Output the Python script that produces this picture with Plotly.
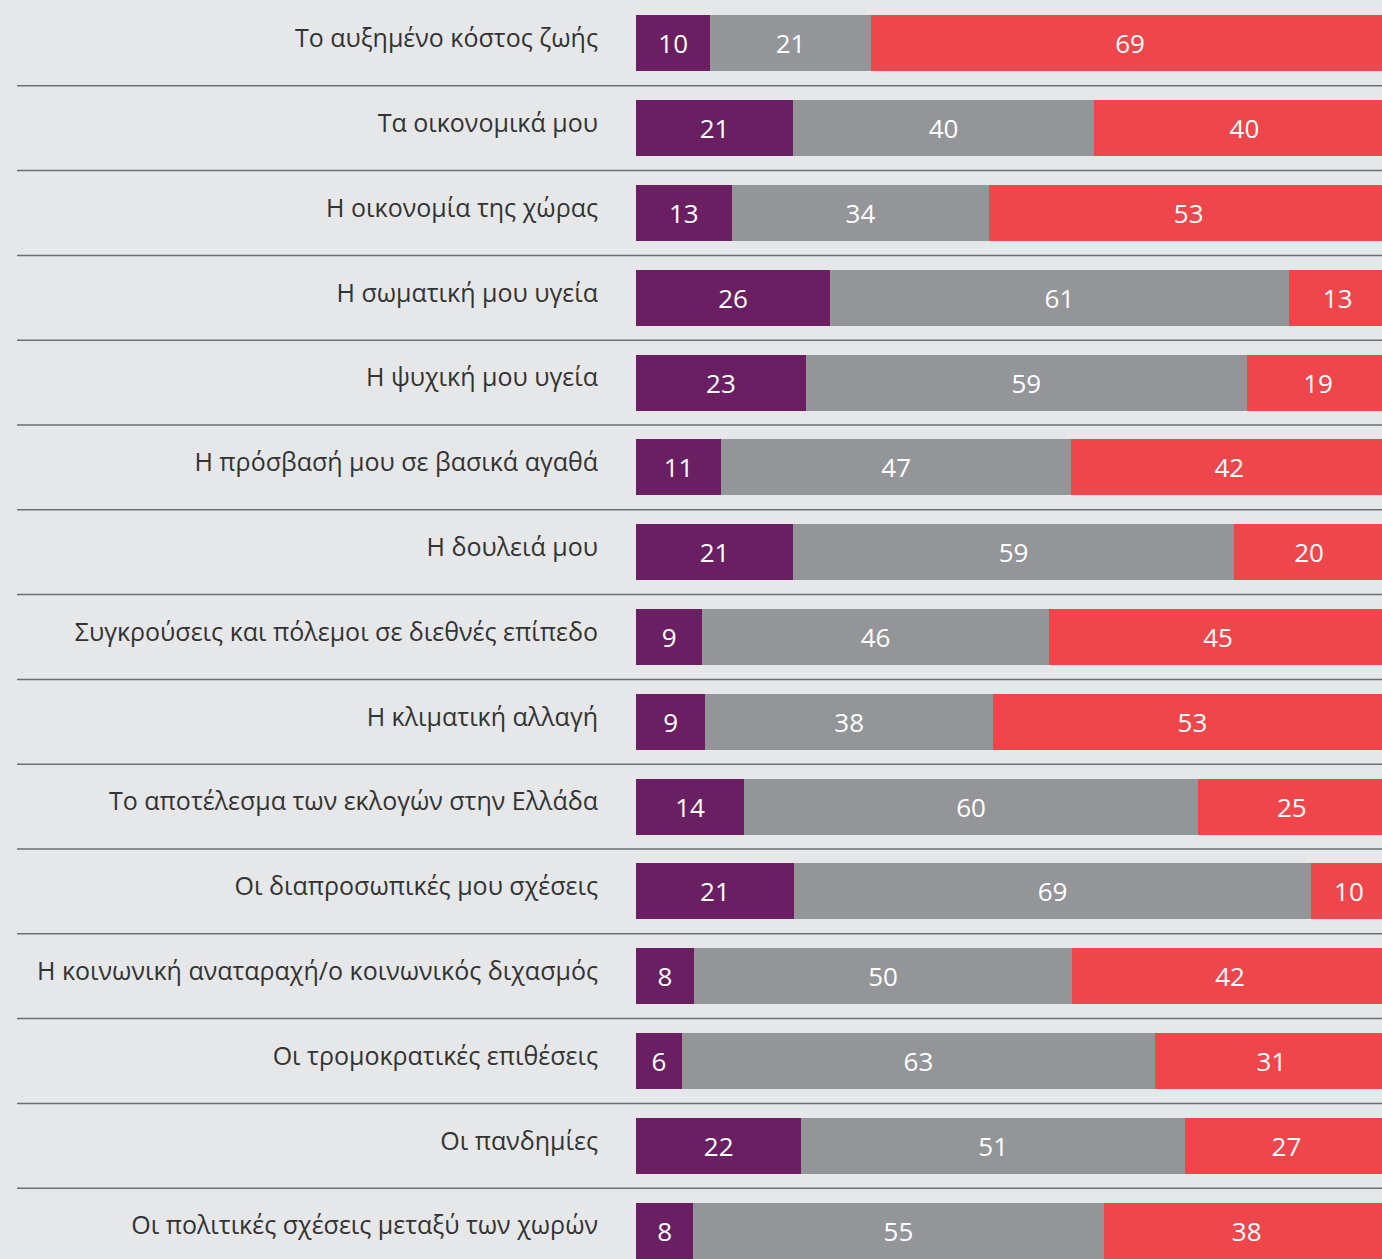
import plotly.graph_objects as go

categories = [
    "Το αυξημένο κόστος ζωής",
    "Τα οικονομικά μου",
    "Η οικονομία της χώρας",
    "Η σωματική μου υγεία",
    "Η ψυχική μου υγεία",
    "Η πρόσβασή μου σε βασικά αγαθά",
    "Η δουλειά μου",
    "Συγκρούσεις και πόλεμοι σε διεθνές επίπεδο",
    "Η κλιματική αλλαγή",
    "Το αποτέλεσμα των εκλογών στην Ελλάδα",
    "Οι διαπροσωπικές μου σχέσεις",
    "Η κοινωνική αναταραχή/ο κοινωνικός διχασμός",
    "Οι τρομοκρατικές επιθέσεις",
    "Οι πανδημίες",
    "Οι πολιτικές σχέσεις μεταξύ των χωρών",
]
# values (labels show them rounded)
purple_vals = [9.9, 20.9, 12.7, 25.8, 22.6, 11.3, 20.9, 8.8, 9.2, 14.4, 21.0, 7.7, 6.1, 22.0, 7.6]
gray_vals = [21.3, 40.0, 34.3, 61.0, 58.6, 46.6, 58.6, 46.1, 38.3, 60.3, 68.8, 50.3, 62.9, 51.0, 54.6]
red_vals = [69, 40, 53, 13, 19, 42, 20, 45, 53, 25, 10, 42, 31, 27, 38]

colors = ["#6a1f62", "#939598", "#ef464c"]
series = [purple_vals, gray_vals, red_vals]

ypos = list(range(len(categories)))

fig = go.Figure()
for vals, col in zip(series, colors):
    fig.add_trace(go.Bar(
        y=ypos, x=vals, orientation="h",
        marker=dict(color=col, line=dict(width=0)),
        width=0.66,
        texttemplate="%{x:.0f}",
        textposition="inside",
        insidetextanchor="middle",
        textangle=0,
        constraintext="none",
        textfont=dict(color="white", size=26, family="Open Sans"),
        hoverinfo="skip",
    ))

shapes = []
for i in range(len(categories) - 1):
    shapes.append(dict(
        type="line", xref="paper", yref="y",
        x0=(17 - 636) / 746, x1=1, y0=i + 0.5, y1=i + 0.5,
        line=dict(color="#6d6e71", width=1.5), layer="below",
    ))

fig.update_layout(
    barmode="stack",
    width=1382, height=1259,
    margin=dict(l=636, r=0, t=1, b=0),
    paper_bgcolor="#e6e7e9",
    plot_bgcolor="#e6e7e9",
    showlegend=False,
    shapes=shapes,
    uniformtext=dict(minsize=24, mode="show"),
    xaxis=dict(range=[0, 746 / 7.52], visible=False, fixedrange=True),
    yaxis=dict(
        range=[14.335, -0.5],
        tickvals=ypos, ticktext=categories,
        showgrid=False, zeroline=False, showline=False,
        ticks="", ticklabelstandoff=37, ticklabelshift=5,
        tickfont=dict(size=25, color="#333333", family="Open Sans"),
        fixedrange=True,
    ),
)

fig.write_html("out.html")
